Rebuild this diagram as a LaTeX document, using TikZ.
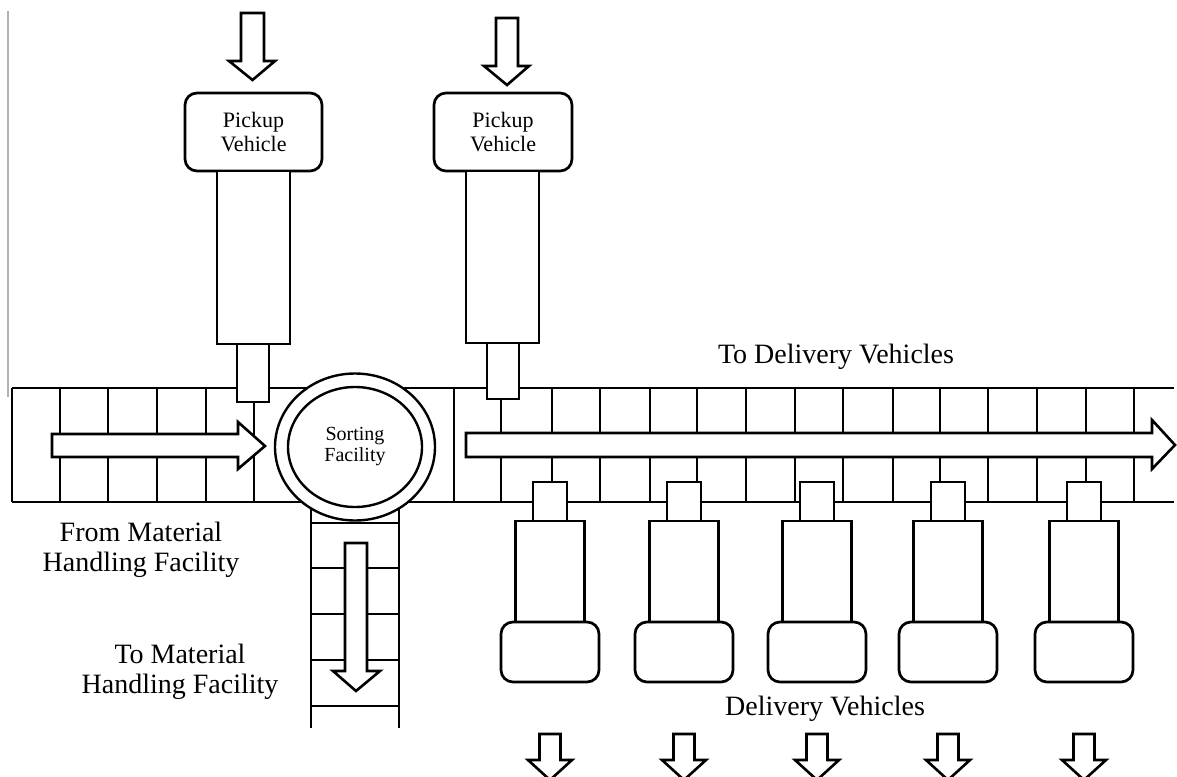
\documentclass[tikz,border=0pt]{standalone}
\usepackage{fontspec}
\setmainfont{Liberation Serif}
\usetikzlibrary{shapes.geometric}
\begin{document}
\begin{tikzpicture}[x=1pt,y=-1pt,
  ln/.style={line width=2.7pt},
  blk/.style={line width=2.6pt, fill=white, line join=miter},
  rbox/.style={draw, line width=2.7pt, fill=white, rounded corners=12pt, inner sep=0pt},
  big/.style={font=\fontsize{28}{30}\selectfont, align=center},
  pvtext/.style={font=\fontsize{22}{24}\selectfont, align=center},
]
\useasboundingbox (0,0) rectangle (1177,776);
\clip (0,0) rectangle (1177,776);

% thin grey line at left
\draw[gray!60, line width=1.5pt] (8,11) -- (8,397);

% main conveyor
\draw[ln] (12,388) -- (1174,388);
\draw[ln] (12,502) -- (1174,502);
\foreach \x in {12,60,108,157,206,254,454,501,552,600,650,697,746,795,843,893,940,988,1037,1086,1134}
  \draw[ln] (\x,388) -- (\x,502);

% downward conveyor
\draw[ln] (311,480) -- (311,728);
\draw[ln] (399,480) -- (399,728);
\foreach \y in {523,568,614,660,706}
  \draw[ln] (311,\y) -- (399,\y);

% sorting facility
\node[ellipse, draw, line width=2.4pt, fill=white, minimum width=160pt, minimum height=147pt, inner sep=0pt] (sortout) at (355,447) {};
\node[ellipse, draw, line width=2.4pt, fill=white, minimum width=134pt, minimum height=120pt, inner sep=0pt,
      font=\fontsize{20}{21}\selectfont, align=center] (sortin) at (355,447) {Sorting\\Facility};

% pickup vehicles
\node[rbox, minimum width=137pt, minimum height=78pt] (pv1) at (253.5,132) {};
\node[pvtext] at (pv1.center) {Pickup\\Vehicle};
\draw[ln, fill=white] (217,171) rectangle (290,344);
\draw[ln, fill=white] (237,344) rectangle (269,402);

\node[rbox, minimum width=138pt, minimum height=78pt] (pv2) at (503,132) {};
\node[pvtext] at (pv2.center) {Pickup\\Vehicle};
\draw[ln, fill=white] (466,171) rectangle (539,343);
\draw[ln, fill=white] (487,343) rectangle (519,399);

% pickup arrows
\draw[blk] (241,13) -- (264,13) -- (264,61) -- (275,61) -- (252.5,80) -- (229,61) -- (241,61) -- cycle;
\draw[blk] (496,18) -- (518,18) -- (518,66) -- (529,66) -- (507,85) -- (484,66) -- (496,66) -- cycle;

% delivery vehicles
\foreach \c [count=\i] in {550,684,817,948,1084}{
  \draw[ln, fill=white] (\c-17,482) rectangle (\c+17,521);
  \draw[ln, fill=white] (\c-34.5,521) rectangle (\c+34.5,622);
  \node[rbox, minimum width=98pt, minimum height=60pt] (dv\i) at (\c,652) {};
  \draw[blk] (\c-10.5,734) -- (\c+10.5,734) -- (\c+10.5,760) -- (\c+22,760) -- (\c,780) -- (\c-22,760) -- (\c-10.5,760) -- cycle;
}

% flow arrows
\draw[blk] (52,434) -- (238,434) -- (238,422) -- (265,446) -- (238,469) -- (238,457) -- (52,457) -- cycle;
\draw[blk] (466,433) -- (1152,433) -- (1152,420) -- (1175,445) -- (1152,469) -- (1152,457) -- (466,457) -- cycle;
\draw[blk] (345,543) -- (367,543) -- (367,671) -- (380,671) -- (356,691) -- (333,671) -- (345,671) -- cycle;

% labels
\node[big] (tdv) at (836,357) {To Delivery Vehicles};
\node[big] (dvl) at (825,709) {Delivery Vehicles};
\node[big] (fmh) at (141,550) {From Material\\Handling Facility};
\node[big] (tmh) at (180,672) {To Material\\Handling Facility};
\end{tikzpicture}
\end{document}
